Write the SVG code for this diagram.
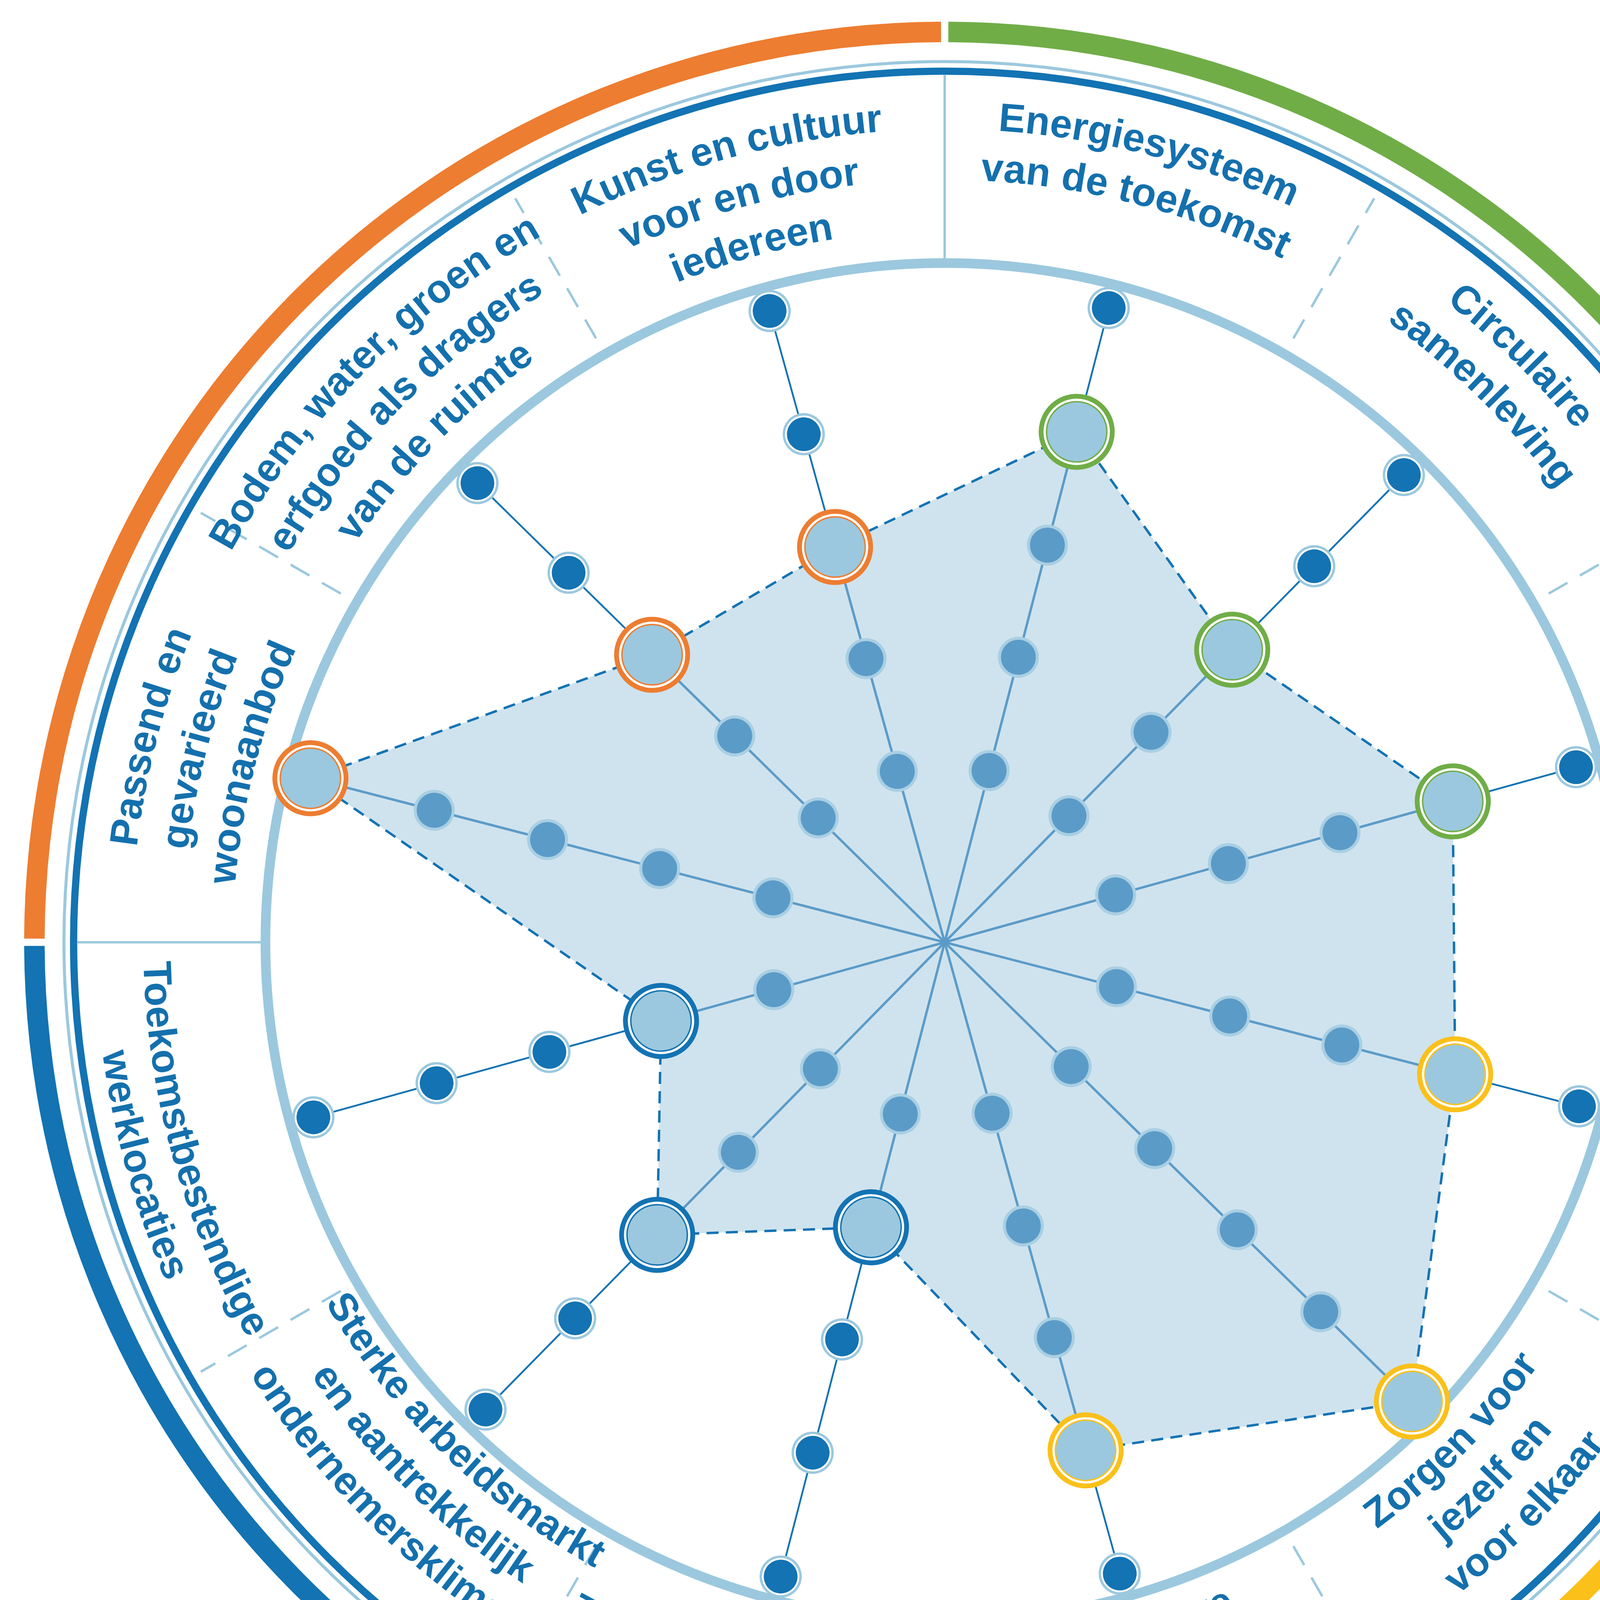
<svg xmlns="http://www.w3.org/2000/svg" width="4843" height="4843" viewBox="0 0 4843 4843">
<style>
.lb{font-family:"Liberation Sans",Arial,sans-serif;font-weight:bold;font-size:33px;fill:#1470ad;text-anchor:middle}
.sp{stroke:#5b9bc8;stroke-width:2;fill:none}
.so{stroke:#1373b3;stroke-width:1.5;fill:none}
.dv{stroke:#9bc8de;stroke-width:2;fill:none}
.dd{stroke:#9bc8de;stroke-width:2;stroke-dasharray:18 12;fill:none}
.band{fill:none;stroke-width:17}
</style>
<defs>
<g id="dd"><circle r="17.5" fill="#9bc8de"/><circle r="15.5" fill="#fff"/><circle r="14" fill="#1373b3"/></g>
<g id="dm"><circle r="17" fill="#a9cfe3"/><circle r="14.5" fill="#5b9bc8"/></g>
<g id="bo"><circle r="29.5" fill="#fff" stroke="#ed7d31" stroke-width="4"/><circle r="25" fill="#9bc8de" stroke="#ed7d31" stroke-width="1.2"/></g>
<g id="bg"><circle r="29.5" fill="#fff" stroke="#70ad47" stroke-width="4"/><circle r="25" fill="#9bc8de" stroke="#70ad47" stroke-width="1.2"/></g>
<g id="by"><circle r="29.5" fill="#fff" stroke="#fbc01a" stroke-width="4"/><circle r="25" fill="#9bc8de" stroke="#fbc01a" stroke-width="1.2"/></g>
<g id="bb"><circle r="29.5" fill="#fff" stroke="#1373b3" stroke-width="4"/><circle r="25" fill="#9bc8de" stroke="#1373b3" stroke-width="1.2"/></g>
<path id="t674" d="M783,1455 A674,674 0 1 1 783,107 A674,674 0 1 1 783,1455"/>
<path id="t632" d="M783,1413 A632,632 0 1 1 783,149 A632,632 0 1 1 783,1413"/>
<path id="t590" d="M783,1371 A590,590 0 1 1 783,191 A590,590 0 1 1 783,1371"/>
<path id="b604" d="M783,177 A604,604 0 1 0 783,1385 A604,604 0 1 0 783,177"/>
<path id="b646" d="M783,135 A646,646 0 1 0 783,1427 A646,646 0 1 0 783,135"/>
<path id="b688" d="M783,93 A688,688 0 1 0 783,1469 A688,688 0 1 0 783,93"/>
<path id="b640" d="M783,141 A640,640 0 1 0 783,1421 A640,640 0 1 0 783,141"/>
<path id="b682" d="M783,99 A682,682 0 1 0 783,1463 A682,682 0 1 0 783,99"/>
<path id="b594" d="M783,187 A594,594 0 1 0 783,1375 A594,594 0 1 0 783,187"/>
<path id="b636" d="M783,145 A636,636 0 1 0 783,1417 A636,636 0 1 0 783,145"/>
<path id="b678" d="M783,103 A678,678 0 1 0 783,1459 A678,678 0 1 0 783,103"/>
<path id="b664" d="M783,117 A664,664 0 1 0 783,1445 A664,664 0 1 0 783,117"/>
<path id="b704" d="M783,77 A704,704 0 1 0 783,1485 A704,704 0 1 0 783,77"/>
</defs>
<rect width="4843" height="4843" fill="#fff"/>
<g transform="scale(3.08865)">
<g id="frame">
<path class="band" stroke="#ed7d31" d="M28.5,778 A754.5,754.5 0 0 1 780,26.5"/>
<path class="band" stroke="#70ad47" d="M786,26.5 A754.5,754.5 0 0 1 1537.5,778"/>
<path class="band" stroke="#fbc01a" d="M1537.5,784 A754.5,754.5 0 0 1 786,1535.5"/>
<path class="band" stroke="#1373b3" d="M780,1535.5 A754.5,754.5 0 0 1 28.5,784"/>
<circle cx="783" cy="781" r="730" fill="none" stroke="#9bc8de" stroke-width="2.5"/>
<circle cx="783" cy="781" r="722" fill="none" stroke="#1373b3" stroke-width="6"/>
<circle cx="783" cy="781" r="563" fill="none" stroke="#9bc8de" stroke-width="8"/>
<g>
<line class="dv" x1="783" y1="214" x2="783" y2="62"/>
<line class="dv" x1="783" y1="214" x2="783" y2="62" transform="rotate(90 783 781)"/>
<line class="dv" x1="783" y1="214" x2="783" y2="62" transform="rotate(180 783 781)"/>
<line class="dv" x1="783" y1="214" x2="783" y2="62" transform="rotate(270 783 781)"/>
<line class="dd" x1="783" y1="203" x2="783" y2="69" transform="rotate(30 783 781)"/>
<line class="dd" x1="783" y1="203" x2="783" y2="69" transform="rotate(60 783 781)"/>
<line class="dd" x1="783" y1="203" x2="783" y2="69" transform="rotate(120 783 781)"/>
<line class="dd" x1="783" y1="203" x2="783" y2="69" transform="rotate(150 783 781)"/>
<line class="dd" x1="783" y1="203" x2="783" y2="69" transform="rotate(210 783 781)"/>
<line class="dd" x1="783" y1="203" x2="783" y2="69" transform="rotate(240 783 781)"/>
<line class="dd" x1="783" y1="203" x2="783" y2="69" transform="rotate(300 783 781)"/>
<line class="dd" x1="783" y1="203" x2="783" y2="69" transform="rotate(330 783 781)"/>
</g>
</g>
<g id="connectors">
<polygon points="892.4,357.9 1021.3,538.5 1204.1,664.2 1206.1,890.4 1170.3,1161.6 899.8,1202.1 721.9,1017.2 544.7,1023.5 547.9,846.2 257.3,645 540.5,542.7 692.2,453.4" fill="#cfe3ee" stroke="#1373b3" stroke-width="2" stroke-dasharray="10 6"/>
</g>
<g id="energie">
<g transform="rotate(14.5 783 781)">
<line class="sp" x1="783" y1="781" x2="783" y2="344"/><line class="so" x1="783" y1="344" x2="783" y2="238"/>
<use href="#dm" x="783" y="634"/><use href="#dm" x="783" y="537"/><use href="#dm" x="783" y="441"/><use href="#bg" x="783" y="344"/><use href="#dd" x="783" y="238"/>
</g>
<text class="lb"><textPath href="#t674" startOffset="54.03%">Energiesysteem</textPath></text>
<text class="lb"><textPath href="#t632" startOffset="54.03%">van de toekomst</textPath></text>
</g>
<g id="circulaire">
<g transform="rotate(44.5 783 781)">
<line class="sp" x1="783" y1="781" x2="783" y2="441"/><line class="so" x1="783" y1="441" x2="783" y2="238"/>
<use href="#dm" x="783" y="634"/><use href="#dm" x="783" y="537"/><use href="#bg" x="783" y="441"/><use href="#dd" x="783" y="344"/><use href="#dd" x="783" y="238"/>
</g>
<text class="lb"><textPath href="#t674" startOffset="62.36%">Circulaire</textPath></text>
<text class="lb"><textPath href="#t632" startOffset="62.36%">samenleving</textPath></text>
</g>
<g id="mobiliteit">
<g transform="rotate(74.5 783 781)">
<line class="sp" x1="783" y1="781" x2="783" y2="344"/><line class="so" x1="783" y1="344" x2="783" y2="238"/>
<use href="#dm" x="783" y="634"/><use href="#dm" x="783" y="537"/><use href="#dm" x="783" y="441"/><use href="#bg" x="783" y="344"/><use href="#dd" x="783" y="238"/>
</g>
<text class="lb"><textPath href="#t674" startOffset="70.69%">Duurzame</textPath></text>
<text class="lb"><textPath href="#t632" startOffset="70.69%">mobiliteitsvormen</textPath></text>
</g>
<g id="gezondheid">
<g transform="rotate(104.5 783 781)">
<line class="sp" x1="783" y1="781" x2="783" y2="344"/><line class="so" x1="783" y1="344" x2="783" y2="238"/>
<use href="#dm" x="783" y="634"/><use href="#dm" x="783" y="537"/><use href="#dm" x="783" y="441"/><use href="#by" x="783" y="344"/><use href="#dd" x="783" y="238"/>
</g>
<text class="lb"><textPath href="#b640" startOffset="70.97%">Gezondheids-</textPath></text>
<text class="lb"><textPath href="#b682" startOffset="70.97%">bescherming</textPath></text>
</g>
<g id="zorgen">
<g transform="rotate(134.5 783 781)">
<line class="sp" x1="783" y1="781" x2="783" y2="238"/>
<use href="#dm" x="783" y="634"/><use href="#dm" x="783" y="537"/><use href="#dm" x="783" y="441"/><use href="#dm" x="783" y="344"/><use href="#by" x="783" y="238"/>
</g>
<text class="lb"><textPath href="#b604" startOffset="62.64%">Zorgen voor</textPath></text>
<text class="lb"><textPath href="#b646" startOffset="62.64%">jezelf en</textPath></text>
<text class="lb"><textPath href="#b688" startOffset="62.64%">voor elkaar</textPath></text>
</g>
<g id="voorzieningen">
<g transform="rotate(164.5 783 781)">
<line class="sp" x1="783" y1="781" x2="783" y2="344"/><line class="so" x1="783" y1="344" x2="783" y2="238"/>
<use href="#dm" x="783" y="634"/><use href="#dm" x="783" y="537"/><use href="#dm" x="783" y="441"/><use href="#by" x="783" y="344"/><use href="#dd" x="783" y="238"/>
</g>
<text class="lb"><textPath href="#b604" startOffset="54.31%">Beleefbare</textPath></text>
<text class="lb"><textPath href="#b646" startOffset="54.31%">voorzieningen</textPath></text>
<text class="lb"><textPath href="#b688" startOffset="54.31%">die verbinden</textPath></text>
</g>
<g id="landbouw">
<g transform="rotate(194.5 783 781)">
<line class="sp" x1="783" y1="781" x2="783" y2="537"/><line class="so" x1="783" y1="537" x2="783" y2="238"/>
<use href="#dm" x="783" y="634"/><use href="#bb" x="783" y="537"/><use href="#dd" x="783" y="441"/><use href="#dd" x="783" y="344"/><use href="#dd" x="783" y="238"/>
</g>
<text class="lb"><textPath href="#b640" startOffset="45.97%">Toekomstbestendige</textPath></text>
<text class="lb"><textPath href="#b682" startOffset="45.97%">landbouw</textPath></text>
</g>
<g id="arbeidsmarkt">
<g transform="rotate(224.5 783 781)">
<line class="sp" x1="783" y1="781" x2="783" y2="441"/><line class="so" x1="783" y1="441" x2="783" y2="238"/>
<use href="#dm" x="783" y="634"/><use href="#dm" x="783" y="537"/><use href="#bb" x="783" y="441"/><use href="#dd" x="783" y="344"/><use href="#dd" x="783" y="238"/>
</g>
<text class="lb"><textPath href="#b594" startOffset="37.64%">Sterke arbeidsmarkt</textPath></text>
<text class="lb"><textPath href="#b636" startOffset="37.64%">en aantrekkelijk</textPath></text>
<text class="lb"><textPath href="#b678" startOffset="37.64%">ondernemersklimaat</textPath></text>
</g>
<g id="werklocaties">
<g transform="rotate(254.5 783 781)">
<line class="sp" x1="783" y1="781" x2="783" y2="537"/><line class="so" x1="783" y1="537" x2="783" y2="238"/>
<use href="#dm" x="783" y="634"/><use href="#bb" x="783" y="537"/><use href="#dd" x="783" y="441"/><use href="#dd" x="783" y="344"/><use href="#dd" x="783" y="238"/>
</g>
<text class="lb"><textPath href="#b664" startOffset="29.31%">Toekomstbestendige</textPath></text>
<text class="lb"><textPath href="#b704" startOffset="29.31%">werklocaties</textPath></text>
</g>
<g id="woonaanbod">
<g transform="rotate(284.5 783 781)">
<line class="sp" x1="783" y1="781" x2="783" y2="238"/>
<use href="#dm" x="783" y="634"/><use href="#dm" x="783" y="537"/><use href="#dm" x="783" y="441"/><use href="#dm" x="783" y="344"/><use href="#bo" x="783" y="238"/>
</g>
<text class="lb"><textPath href="#t674" startOffset="29.03%">Passend en</textPath></text>
<text class="lb"><textPath href="#t632" startOffset="29.03%">gevarieerd</textPath></text>
<text class="lb"><textPath href="#t590" startOffset="29.03%">woonaanbod</textPath></text>
</g>
<g id="bodem">
<g transform="rotate(314.5 783 781)">
<line class="sp" x1="783" y1="781" x2="783" y2="441"/><line class="so" x1="783" y1="441" x2="783" y2="238"/>
<use href="#dm" x="783" y="634"/><use href="#dm" x="783" y="537"/><use href="#bo" x="783" y="441"/><use href="#dd" x="783" y="344"/><use href="#dd" x="783" y="238"/>
</g>
<text class="lb"><textPath href="#t674" startOffset="37.36%">Bodem, water, groen en</textPath></text>
<text class="lb"><textPath href="#t632" startOffset="37.36%">erfgoed als dragers</textPath></text>
<text class="lb"><textPath href="#t590" startOffset="37.36%">van de ruimte</textPath></text>
</g>
<g id="kunst">
<g transform="rotate(344.5 783 781)">
<line class="sp" x1="783" y1="781" x2="783" y2="441"/><line class="so" x1="783" y1="441" x2="783" y2="238"/>
<use href="#dm" x="783" y="634"/><use href="#dm" x="783" y="537"/><use href="#bo" x="783" y="441"/><use href="#dd" x="783" y="344"/><use href="#dd" x="783" y="238"/>
</g>
<text class="lb"><textPath href="#t674" startOffset="45.69%">Kunst en cultuur</textPath></text>
<text class="lb"><textPath href="#t632" startOffset="45.69%">voor en door</textPath></text>
<text class="lb"><textPath href="#t590" startOffset="45.69%">iedereen</textPath></text>
</g>
</g>
</svg>
